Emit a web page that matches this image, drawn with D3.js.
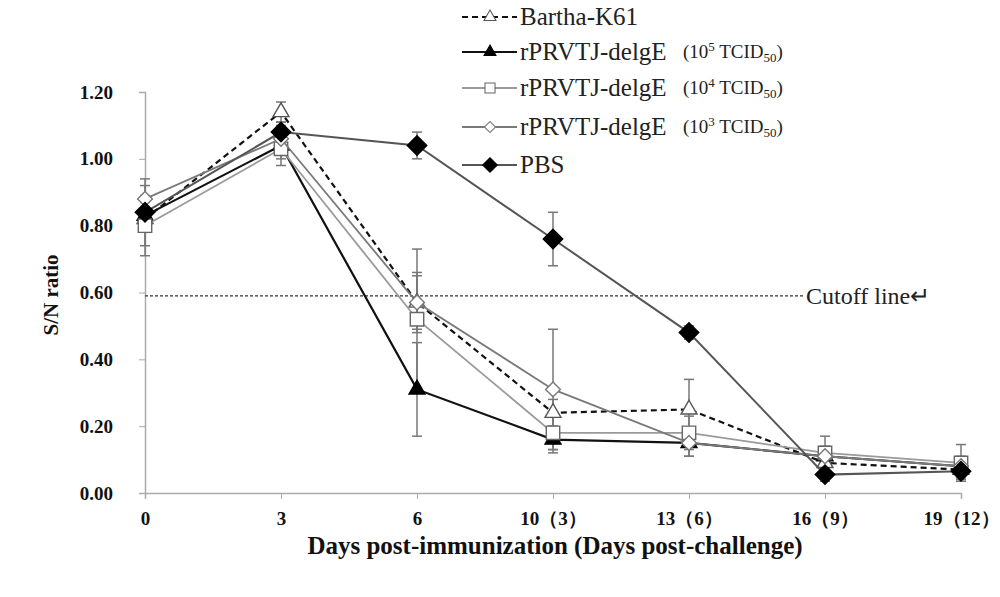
<!DOCTYPE html>
<html>
<head>
<meta charset="utf-8">
<script src="https://cdn.jsdelivr.net/npm/d3@7"></script>
<style>
  body { margin: 0; background: #fff; }
  text { font-family: "Liberation Serif", "Times New Roman", serif; }
</style>
</head>
<body>
<div id="chart"></div>
<script>
let days = ['0', '3', '6', '10（3）', '13（6）', '16（9）', '19（12）'];
let yTicks = [0, 0.2, 0.4, 0.6, 0.8, 1.0, 1.2];
let cutoff = 0.59;

let bartha = [0.82, 1.14, 0.57, 0.24, 0.25, 0.09, 0.07];
let barthaErr = [0.03, 0.03, 0.08, 0.04, 0.09, 0.03, 0.03];
let tcid5 = [0.83, 1.04, 0.31, 0.16, 0.15, 0.11, 0.08];
let tcid5Err = [0.04, 0.04, 0.14, 0.04, 0.04, 0.02, 0.02];
let tcid4 = [0.80, 1.03, 0.52, 0.18, 0.18, 0.12, 0.09];
let tcid4Err = [0.09, 0.05, 0.21, 0.05, 0.05, 0.05, 0.055];
let tcid3 = [0.88, 1.06, 0.57, 0.31, 0.15, 0.11, 0.08];
let tcid3Err = [0.04, 0.04, 0.09, 0.18, 0.04, 0.03, 0.03];
let pbs = [0.84, 1.08, 1.04, 0.76, 0.48, 0.055, 0.065];
let pbsErr = [0.10, 0.03, 0.04, 0.08, 0.02, 0.02, 0.02];

let serif = '"Liberation Serif", "Times New Roman", serif';

let series = [
  {name: 'Bartha-K61', sub: null, values: bartha, err: barthaErr, color: '#111', width: 2.2, dash: '6,4', marker: 'triangle', fill: '#fff', mColor: '#555'},
  {name: 'rPRVTJ-delgE', sub: '5', values: tcid5, err: tcid5Err, color: '#111', width: 2.2, dash: null, marker: 'triangle', fill: '#000', mColor: '#000'},
  {name: 'rPRVTJ-delgE', sub: '4', values: tcid4, err: tcid4Err, color: '#9a9a9a', width: 1.8, dash: null, marker: 'square', fill: '#fff', mColor: '#666'},
  {name: 'rPRVTJ-delgE', sub: '3', values: tcid3, err: tcid3Err, color: '#7a7a7a', width: 1.8, dash: null, marker: 'diamond', fill: '#fff', mColor: '#777'},
  {name: 'PBS', sub: null, values: pbs, err: pbsErr, color: '#555', width: 2, dash: null, marker: 'bigdiamond', fill: '#000', mColor: '#000'}
];

let W = 1000, H = 597;
let svg = d3.select('#chart').append('svg').attr('width', W).attr('height', H);

let x = d3.scalePoint().domain(days).range([145, 961]);
let y = d3.scaleLinear().domain([0, 1.2]).range([493, 92]);

// axes
let yAxis = svg.append('g')
  .attr('transform', 'translate(145,0)')
  .call(d3.axisLeft(y).tickValues(yTicks).tickSize(6).tickFormat(d3.format('.2f')));
yAxis.select('.domain').attr('stroke', '#aaa').attr('stroke-width', 1.5);
yAxis.selectAll('.tick line').attr('stroke', '#aaa');
yAxis.selectAll('.tick text')
  .attr('x', -32)
  .style('font-family', serif)
  .style('font-size', '19px').style('font-weight', 'bold').attr('fill', '#111');

let xAxis = svg.append('g')
  .attr('transform', 'translate(0,493)')
  .call(d3.axisBottom(x).tickSize(6).tickPadding(13));
xAxis.select('.domain').attr('stroke', '#aaa').attr('stroke-width', 1.5);
xAxis.selectAll('.tick line').attr('stroke', '#aaa');
xAxis.selectAll('.tick text')
  .style('font-family', serif)
  .style('font-size', '19px').style('font-weight', 'bold').attr('fill', '#111');

// axis titles
svg.append('text')
  .attr('x', 555).attr('y', 554)
  .attr('text-anchor', 'middle')
  .style('font-family', serif)
  .style('font-size', '25px').style('font-weight', 'bold')
  .attr('fill', '#111')
  .text('Days post-immunization (Days post-challenge)');

svg.append('text')
  .attr('transform', 'translate(58,295) rotate(-90)')
  .attr('text-anchor', 'middle')
  .style('font-family', serif)
  .style('font-size', '21px').style('font-weight', 'bold')
  .attr('fill', '#111')
  .text('S/N ratio');

// cutoff line
svg.append('line')
  .attr('x1', x(days[0])).attr('x2', 805)
  .attr('y1', y(cutoff)).attr('y2', y(cutoff))
  .attr('stroke', '#333').attr('stroke-width', 1.3).attr('stroke-dasharray', '3,2');
svg.append('text')
  .attr('x', 806).attr('y', y(cutoff) + 8)
  .style('font-family', serif)
  .style('font-size', '24px').attr('fill', '#222')
  .text('Cutoff line↵');

function symbolFor(m) {
  if (m === 'triangle') return d3.symbol().type(d3.symbolTriangle).size(110)();
  if (m === 'square') return d3.symbol().type(d3.symbolSquare).size(180)();
  if (m === 'bigdiamond') return d3.symbol().type(d3.symbolSquare).size(190)();
  return d3.symbol().type(d3.symbolSquare).size(110)();
}
function rot(m) {
  return (m === 'bigdiamond' || m === 'diamond') ? ' rotate(45)' : '';
}

// error bars
series.forEach(s => {
  let g = svg.append('g');
  s.values.forEach((v, i) => {
    let cx = x(days[i]);
    g.append('line').attr('x1', cx).attr('x2', cx)
      .attr('y1', y(v - s.err[i])).attr('y2', y(v + s.err[i]))
      .attr('stroke', '#777').attr('stroke-width', 1.5);
    [v - s.err[i], v + s.err[i]].forEach(e => {
      g.append('line').attr('x1', cx - 5).attr('x2', cx + 5)
        .attr('y1', y(e)).attr('y2', y(e))
        .attr('stroke', '#777').attr('stroke-width', 1.5);
    });
  });
});

// lines and markers
let line = d3.line().x((d, i) => x(days[i])).y(d => y(d));
series.forEach(s => {
  svg.append('path').datum(s.values)
    .attr('d', line)
    .attr('fill', 'none')
    .attr('stroke', s.color).attr('stroke-width', s.width)
    .attr('stroke-dasharray', s.dash);
  svg.append('g').selectAll('path').data(s.values).enter().append('path')
    .attr('d', symbolFor(s.marker))
    .attr('transform', (d, i) => `translate(${x(days[i])},${y(d)})${rot(s.marker)}`)
    .attr('fill', s.fill).attr('stroke', s.mColor).attr('stroke-width', 1.4);
});

// legend
let legY = [17, 52, 88, 127, 165];
series.forEach((s, i) => {
  let g = svg.append('g').attr('transform', `translate(0,${legY[i]})`);
  g.append('line').attr('x1', 462).attr('x2', 517).attr('y1', 0).attr('y2', 0)
    .attr('stroke', s.color).attr('stroke-width', s.width).attr('stroke-dasharray', s.dash);
  g.append('path').attr('d', symbolFor(s.marker))
    .attr('transform', `translate(490,0) scale(0.75)${rot(s.marker)}`)
    .attr('fill', s.fill).attr('stroke', s.mColor).attr('stroke-width', 1.4);
  g.append('text').attr('x', 520).attr('y', 8)
    .style('font-family', serif)
    .style('font-size', '25px').attr('fill', '#222').text(s.name);
  if (s.sub) {
    let t = g.append('text').attr('x', 683).attr('y', 6)
      .style('font-family', serif)
      .style('font-size', '19px').attr('fill', '#222');
    t.append('tspan').text('(10');
    t.append('tspan').attr('dy', -7).style('font-size', '13px').text(s.sub);
    t.append('tspan').attr('dy', 7).text(' TCID');
    t.append('tspan').attr('dy', 4).style('font-size', '13px').text('50');
    t.append('tspan').attr('dy', -4).text(')');
  }
});
</script>
</body>
</html>
